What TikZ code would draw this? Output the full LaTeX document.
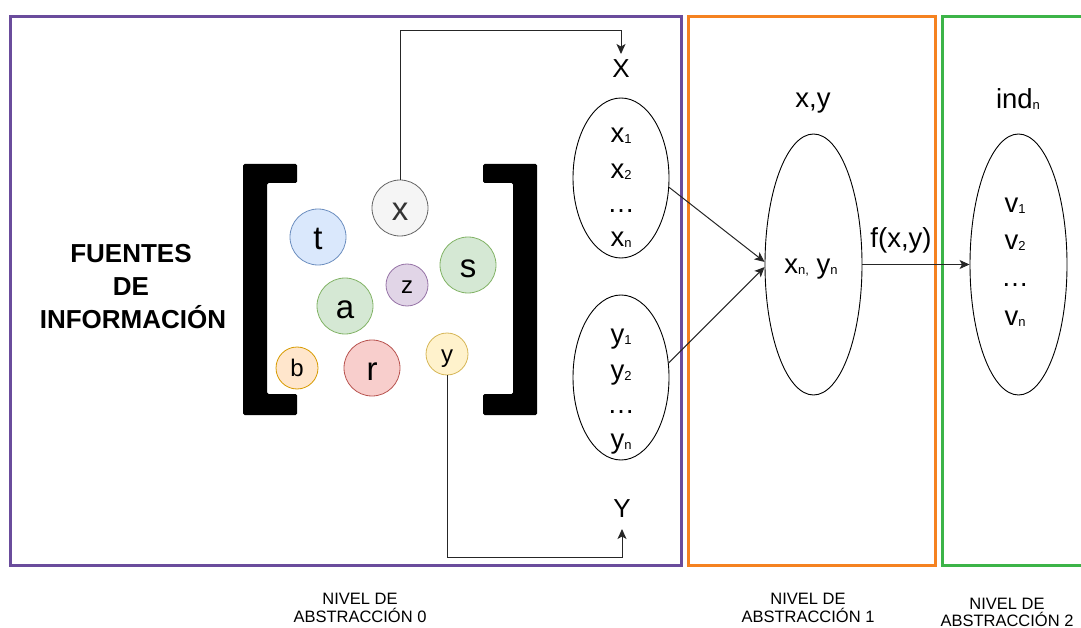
\documentclass[tikz,border=0pt]{standalone}
\usepackage{fontspec}
\setmainfont{Liberation Sans}
\usetikzlibrary{shapes.geometric,arrows.meta,calc}

\definecolor{lvlzero}{RGB}{106,76,156}
\definecolor{lvlone}{RGB}{245,130,32}
\definecolor{lvltwo}{RGB}{60,180,72}
\definecolor{grayfill}{HTML}{F5F5F5}\definecolor{graydraw}{HTML}{666666}
\definecolor{bluefill}{HTML}{DAE8FC}\definecolor{bluedraw}{HTML}{6C8EBF}
\definecolor{greenfill}{HTML}{D5E8D4}\definecolor{greendraw}{HTML}{82B366}
\definecolor{violetfill}{HTML}{E1D5E7}\definecolor{violetdraw}{HTML}{9673A6}
\definecolor{orangefill}{HTML}{FFE6CC}\definecolor{orangedraw}{HTML}{D79B00}
\definecolor{redfill}{HTML}{F8CECC}\definecolor{reddraw}{HTML}{B85450}
\definecolor{yellowfill}{HTML}{FFF2CC}\definecolor{yellowdraw}{HTML}{D6B656}

% small index set on the baseline
\newcommand\lo[1]{\raisebox{-1pt}{\fontsize{13}{13}\selectfont #1}}

\begin{document}
\begin{tikzpicture}[x=1pt,y=-1pt,
  levelbox/.style={line width=3pt},
  src/.style={circle,draw,line width=0.8pt,minimum size=56pt,inner sep=0pt,
    text height=25pt,text depth=0pt,font=\fontsize{33}{33}\selectfont},
  srcsmall/.style={src,minimum size=42pt,text height=16pt,font=\fontsize{24}{24}\selectfont},
  setell/.style={ellipse,draw,line width=0.9pt,inner sep=0pt},
  lbl/.style={inner sep=0pt,anchor=base,font=\fontsize{27.5}{27.5}\selectfont},
  axislbl/.style={lbl,text height=18pt,text depth=6pt,outer sep=6pt,font=\fontsize{26}{26}\selectfont},
  arr/.style={draw=black!85,line width=1pt,-{Stealth[length=10pt,width=9pt,inset=2.5pt]}},
  bracket/.style={fill=black,rounded corners=1.5pt},
  title/.style={inner sep=0pt,anchor=base,font=\fontsize{26}{26}\selectfont\bfseries},
  caption/.style={inner sep=0pt,anchor=base,font=\fontsize{16.5}{16.5}\selectfont}]

\useasboundingbox (0,0) rectangle (1081,628);
\clip (0,0) rectangle (1081,628);

% abstraction level frames
\draw[levelbox,lvlzero] (10.5,16.5) rectangle (681.5,565.5);
\draw[levelbox,lvlone] (688.5,16.5) rectangle (935.5,565.5);
\draw[levelbox,lvltwo] (942.5,16.5) rectangle (1100,565.5);

% title of the sources
\node[title] (f1) at (131,262) {FUENTES};
\node[title] (f2) at (131,295) {DE};
\node[title] (f3) at (133,328) {INFORMACIÓN};

% square brackets around the sources
\fill[bracket] (243,164) -- (297,164) -- (297,183) -- (267,183) -- (267,394)
  -- (297,394) -- (297,415) -- (243,415) -- cycle;
\fill[bracket] (537,164) -- (483,164) -- (483,183) -- (513,183) -- (513,394)
  -- (483,394) -- (483,415) -- (537,415) -- cycle;

% information sources
\node[src,fill=grayfill,draw=graydraw,text=black!80] (cx) at (400,208) {x};
\node[src,fill=bluefill,draw=bluedraw] (ct) at (318,237) {t};
\node[src,fill=greenfill,draw=greendraw] (cs) at (468,265) {s};
\node[srcsmall,fill=violetfill,draw=violetdraw] (cz) at (407,285) {z};
\node[src,fill=greenfill,draw=greendraw] (ca) at (345,306) {a};
\node[srcsmall,fill=orangefill,draw=orangedraw] (cb) at (297,368) {b};
\node[src,fill=redfill,draw=reddraw] (cr) at (372,368) {r};
\node[srcsmall,fill=yellowfill,draw=yellowdraw] (cy) at (447,354) {y};

% sets X and Y
\node[axislbl] (X) at (621,78) {X};
\node[axislbl] (Y) at (622,517) {Y};
\node[setell,minimum width=96pt,minimum height=160pt] (xe) at (621,178) {};
\node[setell,minimum width=96pt,minimum height=165pt] (ye) at (621,377.5) {};
\node[lbl] (x1) at (621,143) {x\lo1};
\node[lbl] (x2) at (621,179) {x\lo2};
\node[lbl] (x3) at (621,213) {…};
\node[lbl] (x4) at (621,247) {x\lo{n}};
\node[lbl] (y1) at (621,343) {y\lo1};
\node[lbl] (y2) at (621,379) {y\lo2};
\node[lbl] (y3) at (621,413) {…};
\node[lbl] (y4) at (621,448) {y\lo{n}};

% pairs
\node[lbl] (pl) at (813,108) {x,y};
\node[setell,minimum width=97pt,minimum height=261pt] (c) at (813.5,264.5) {};
\node[lbl] (pc) at (811,273) {x\lo{n,} y\lo{n}};

% indicators
\node[lbl] (il) at (1018,109) {ind\lo{n}};
\node[setell,minimum width=97pt,minimum height=261pt] (v) at (1018.5,264.5) {};
\node[lbl] (v1) at (1015,213) {v\lo1};
\node[lbl] (v2) at (1015,250) {v\lo2};
\node[lbl] (v3) at (1015,287) {…};
\node[lbl] (v4) at (1015,325) {v\lo{n}};

% connectors
\coordinate (top) at (0,31);
\coordinate (bot) at (0,557);
\draw[arr] (cx.north) |- (X.north |- top) -- (X.north);
\draw[arr] (cy.south) |- (Y.south |- bot) -- (Y.south);
\draw[arr] (xe.-11) -- (c.177);
\draw[arr] (ye.17) -- (c.183);
\draw[arr] (c.east) -- (v.west);
\node[lbl] (fl) at (901,248) {f(x,y)};

% level captions
\node[caption] (n0a) at (360,604) {NIVEL DE};
\node[caption] (n0b) at (360,622) {ABSTRACCIÓN 0};
\node[caption] (n1a) at (808,604) {NIVEL DE};
\node[caption] (n1b) at (808,622) {ABSTRACCIÓN 1};
\node[caption] (n2a) at (1007,609) {NIVEL DE};
\node[caption] (n2b) at (1007,626) {ABSTRACCIÓN 2};
\end{tikzpicture}
\end{document}
